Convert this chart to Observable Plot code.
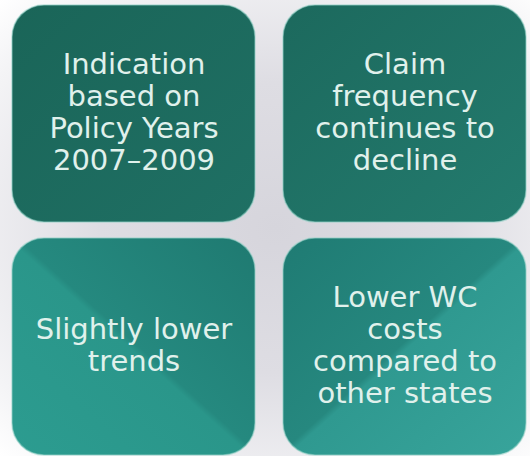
<!DOCTYPE html>
<html>
<head>
<meta charset="utf-8">
<script src="https://cdn.jsdelivr.net/npm/d3@7"></script>
<script src="https://cdn.jsdelivr.net/npm/@observablehq/plot@0.6"></script>
<style>
  html, body { margin: 0; padding: 0; }
  body {
    width: 530px; height: 456px; overflow: hidden;
    background: radial-gradient(ellipse at 52% 50%, #d6d5dc 0%, #dedde3 45%, #f4f4f6 85%, #ffffff 100%);
  }
  #chart svg { display: block; background: transparent; }
</style>
</head>
<body>
<div id="chart"></div>
<script>
// Data
const labels = [
  "Indication\nbased on\nPolicy Years\n2007–2009",
  "Claim\nfrequency\ncontinues to\ndecline",
  "Slightly lower\ntrends",
  "Lower WC\ncosts\ncompared to\nother states"
];
const columns = ["left", "right", "left", "right"];
const rows = ["top", "top", "bottom", "bottom"];

// Styles (kept apart from the data)
const gradientStops = [
  [["0%", "#1a6558"], ["100%", "#1f7064"]],
  [["0%", "#1c695d"], ["100%", "#237b6e"]],
  [["0%", "#2c9c90"], ["49%", "#2a968a"], ["51%", "#25897f"], ["100%", "#1f7a71"]],
  [["0%", "#1f7b73"], ["49%", "#26887f"], ["51%", "#2f9990"], ["100%", "#38a49b"]]
];
const gradientDirs = [
  [0, 0, 1, 1], [0, 0, 1, 1], [0, 1, 1, 0], [0, 0, 1, 1]
];

const items = labels.map((label, i) => ({
  label, column: columns[i], row: rows[i], fill: `url(#boxgrad${i})`
}));

const defsMark = () => {
  const defs = d3.create("svg:defs");
  gradientStops.forEach((stops, i) => {
    const [x1, y1, x2, y2] = gradientDirs[i];
    const g = defs.append("linearGradient")
      .attr("id", `boxgrad${i}`)
      .attr("x1", x1).attr("y1", y1).attr("x2", x2).attr("y2", y2);
    stops.forEach(([off, col]) => g.append("stop").attr("offset", off).attr("stop-color", col));
  });
  return defs.node();
};

const chart = Plot.plot({
  width: 530,
  height: 456,
  marginLeft: 12,
  marginRight: 3,
  marginTop: 5,
  marginBottom: 1,
  x: {type: "band", domain: ["left", "right"], paddingInner: 0.103, paddingOuter: 0, axis: null},
  y: {type: "band", domain: ["top", "bottom"], paddingInner: 0.069, paddingOuter: 0, axis: null},
  color: {type: "identity"},
  style: {background: "transparent"},
  marks: [
    defsMark,
    Plot.cell(items, {
      x: "column", y: "row", fill: "fill", inset: 0, rx: 32, ry: 32,
      stroke: "#8fcfc4", strokeOpacity: 0.55, strokeWidth: 1.5
    }),
    Plot.text(items, {
      x: "column", y: "row", text: "label",
      fill: "#e0f1ec", fontSize: 29, lineHeight: 1.1,
      fontFamily: "DejaVu Sans, Verdana, sans-serif",
      textAnchor: "middle", lineAnchor: "middle", dy: -2
    })
  ]
});
document.getElementById("chart").appendChild(chart);
</script>
</body>
</html>
